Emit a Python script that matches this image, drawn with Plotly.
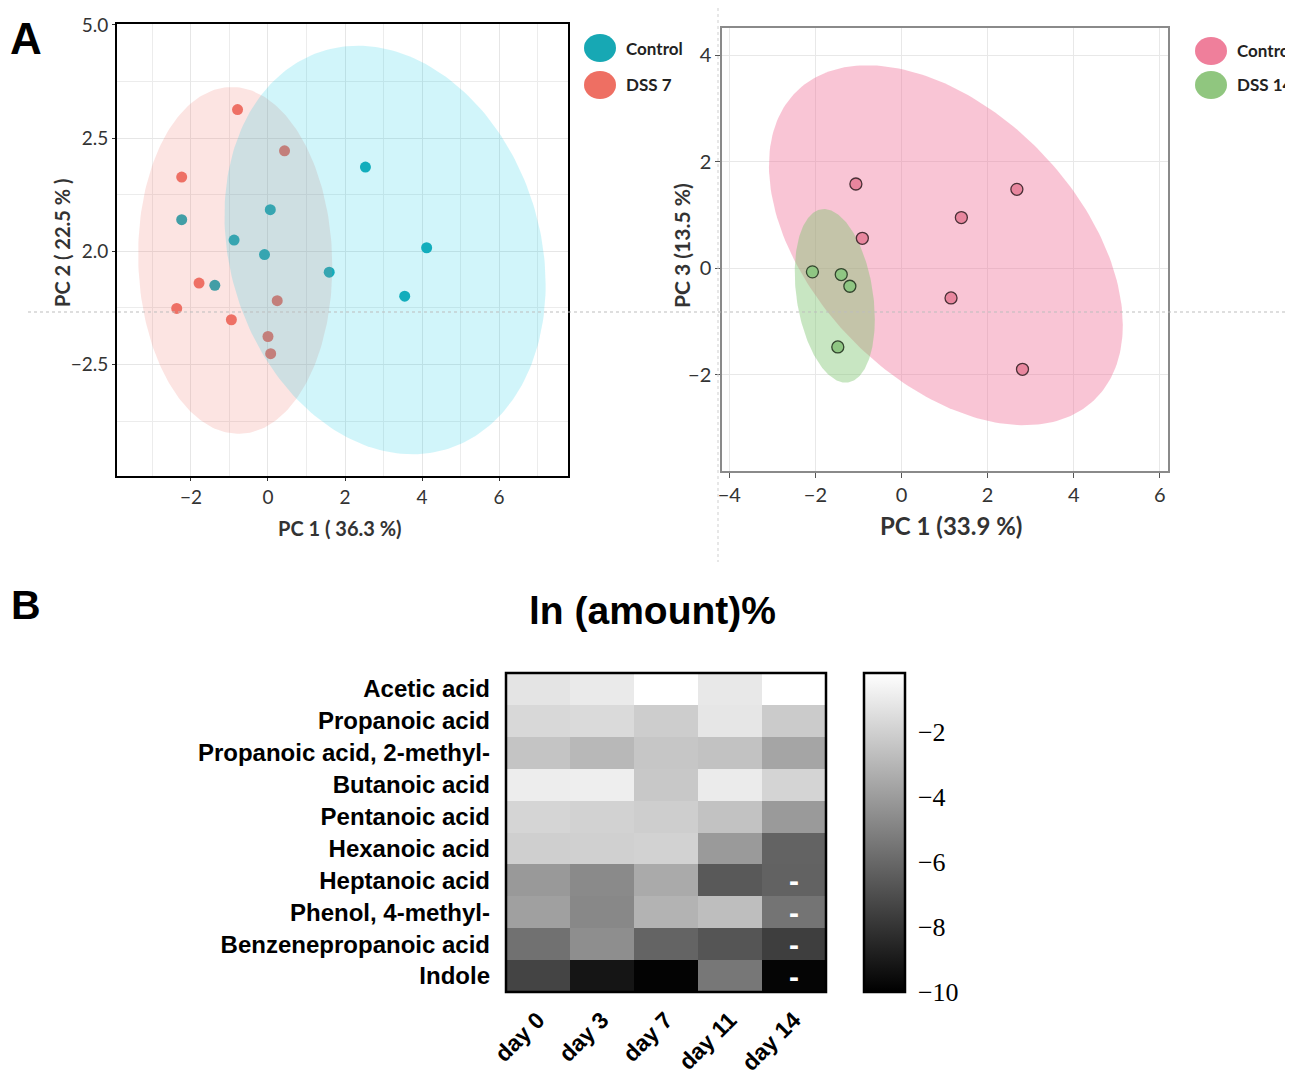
import numpy as np
import plotly.graph_objects as go

# ---------------- Panel A, left PCA (Control vs DSS 7) ----------------
ctrl7_x = [2.53, 0.06, -2.24, -0.88, -0.09, 4.12, 1.59, -1.38, 3.55]
ctrl7_y = [1.86, 0.92, 0.70, 0.25, -0.07, 0.08, -0.46, -0.75, -0.99]
dss7_x = [-0.79, 0.43, -2.24, -1.79, -2.37, 0.24, -0.95, 0.00, 0.07]
dss7_y = [3.13, 2.22, 1.64, -0.70, -1.26, -1.09, -1.51, -1.88, -2.26]
left_xticks = [-2, 0, 2, 4, 6]
left_yticks = [5.0, 2.5, 0.0, -2.5]
left_yticktext = ["5.0", "2.5", "2.0", "\u22122.5"]
# ellipse params: centre x, centre y, half width, half height, skew
ell_ctrl7 = [3.04, 0.03, 4.17, 4.51, -0.17]
ell_dss7 = [-0.85, -0.20, 2.52, 3.83, -0.035]

# ---------------- Panel A, right PCA (Control vs DSS 14) ----------------
ctrl14_x = [-1.06, 2.68, 1.39, -0.91, 1.15, 2.81]
ctrl14_y = [1.58, 1.48, 0.95, 0.56, -0.56, -1.90]
dss14_x = [-2.07, -1.40, -1.20, -1.48]
dss14_y = [-0.07, -0.12, -0.34, -1.48]
right_xticks = [-4, -2, 0, 2, 4, 6]
right_yticks = [-2, 0, 2, 4]
ell_ctrl14 = [1.03, 0.43, 4.11, 3.38, -0.443]
ell_dss14 = [-1.55, -0.52, 0.93, 1.63, -0.27]

# ---------------- Panel B heatmap ----------------
compounds = ["Acetic acid", "Propanoic acid", "Propanoic acid, 2-methyl-",
             "Butanoic acid", "Pentanoic acid", "Hexanoic acid",
             "Heptanoic acid", "Phenol, 4-methyl-", "Benzenepropanoic acid",
             "Indole"]
days = ["day 0", "day 3", "day 7", "day 11", "day 14"]
ln_amount = [
    [-1.24, -1.01, -0.20, -1.08, -0.20],
    [-1.70, -1.62, -2.12, -1.16, -2.20],
    [-2.47, -2.93, -2.39, -2.54, -3.66],
    [-0.89, -0.85, -2.31, -0.97, -1.85],
    [-1.81, -1.93, -2.08, -2.54, -4.08],
    [-2.04, -2.01, -1.93, -4.08, -6.20],
    [-4.12, -4.70, -3.47, -6.58, -6.23],
    [-3.85, -4.77, -3.12, -2.70, -5.54],
    [-5.66, -4.54, -6.16, -6.73, -7.62],
    [-7.39, -9.19, -9.88, -5.43, -9.81],
]
dash_rows = ["Heptanoic acid", "Phenol, 4-methyl-", "Benzenepropanoic acid", "Indole"]
cbar_ticks = [-2, -4, -6, -8, -10]
cbar_range = [-10, -0.2]

# the page body has an 8 px margin; the figure is sized to fit the window
OFF = 8
W, H = 1293 - OFF, 1075 - OFF


def ellipse(p, n=240):
    cx, cy, wx, hy, s = p
    phi = np.arcsin(s)
    t = np.linspace(0, 2 * np.pi, n)
    return cx + wx * np.cos(t), cy + hy * np.sin(t + phi)


def px(x):
    return (x - OFF) / W


def py(y):
    return 1 - (y - OFF) / H


fig = go.Figure()

# left panel: points first, ellipses drawn over them
fig.add_trace(go.Scatter(x=ctrl7_x, y=ctrl7_y, mode="markers", xaxis="x", yaxis="y",
                         marker=dict(size=11, color="#17A8B4", line=dict(width=0)),
                         name="Control", showlegend=False))
fig.add_trace(go.Scatter(x=dss7_x, y=dss7_y, mode="markers", xaxis="x", yaxis="y",
                         marker=dict(size=11, color="#EE6F63", line=dict(width=0)),
                         name="DSS 7", showlegend=False))
ex, ey = ellipse(ell_dss7)
fig.add_trace(go.Scatter(x=ex, y=ey, mode="lines", fill="toself", xaxis="x", yaxis="y",
                         line=dict(width=0), fillcolor="rgba(240,120,110,0.20)",
                         hoverinfo="skip", showlegend=False))
ex, ey = ellipse(ell_ctrl7)
fig.add_trace(go.Scatter(x=ex, y=ey, mode="lines", fill="toself", xaxis="x", yaxis="y",
                         line=dict(width=0), fillcolor="rgba(0,200,225,0.18)",
                         hoverinfo="skip", showlegend=False))

# right panel: ellipses then points
ex, ey = ellipse(ell_ctrl14)
fig.add_trace(go.Scatter(x=ex, y=ey, mode="lines", fill="toself", xaxis="x2", yaxis="y2",
                         line=dict(width=0), fillcolor="rgba(240,110,150,0.40)",
                         hoverinfo="skip", showlegend=False))
ex, ey = ellipse(ell_dss14)
fig.add_trace(go.Scatter(x=ex, y=ey, mode="lines", fill="toself", xaxis="x2", yaxis="y2",
                         line=dict(width=0), fillcolor="rgba(125,195,110,0.42)",
                         hoverinfo="skip", showlegend=False))
fig.add_trace(go.Scatter(x=ctrl14_x, y=ctrl14_y, mode="markers", xaxis="x2", yaxis="y2",
                         marker=dict(size=12, color="#E8869E", line=dict(width=1.3, color="#4a3036")),
                         name="Control", showlegend=False))
fig.add_trace(go.Scatter(x=dss14_x, y=dss14_y, mode="markers", xaxis="x2", yaxis="y2",
                         marker=dict(size=12, color="#8FC683", line=dict(width=1.3, color="#33452e")),
                         name="DSS 14", showlegend=False))

# heatmap
cb_bottom, cb_len = py(992), 319 / H
fig.add_trace(go.Heatmap(z=ln_amount, x=days, y=compounds, xaxis="x3", yaxis="y3",
                         colorscale=[[0, "#000000"], [1, "#ffffff"]],
                         zmin=cbar_range[0], zmax=cbar_range[1],
                         colorbar=dict(x=px(864), xanchor="left", xpad=0,
                                       y=cb_bottom, yanchor="bottom", ypad=0,
                                       len=cb_len, lenmode="fraction", thickness=41,
                                       outlinewidth=2.5, outlinecolor="black",
                                       tickvals=cbar_ticks,
                                       ticktext=["\u2212" + str(abs(v)) for v in cbar_ticks],
                                       ticks="outside", ticklen=7, tickwidth=1,
                                       tickcolor="rgba(0,0,0,0)",
                                       tickfont=dict(family="Liberation Serif", size=26, color="black"))))

# inside ticks on both edges of the colour bar
for v in cbar_ticks[:-1]:
    yy = cb_bottom + (v - cbar_range[0]) / (cbar_range[1] - cbar_range[0]) * cb_len
    for x0, x1 in [(865, 873), (897, 905)]:
        fig.add_shape(type="line", xref="paper", yref="paper", x0=px(x0), x1=px(x1),
                      y0=yy, y1=yy, line=dict(color="black", width=2.5))

for r in dash_rows:
    fig.add_annotation(x="day 14", y=r, xref="x3", yref="y3", text="<b>-</b>",
                       xanchor="center", yanchor="middle",
                       showarrow=False, font=dict(family="Liberation Sans", size=30, color="white"))

# heatmap frame
fig.add_shape(type="rect", xref="x3 domain", yref="y3 domain", x0=0, x1=1, y0=0, y1=1,
              line=dict(color="black", width=2.5), layer="above")

sans = "Lato"
tickfont_l = dict(family=sans, size=19, color="#333333")
tickfont_r = dict(family=sans, size=20, color="#333333")

fig.update_layout(
    template="none",
    width=W, height=H, margin=dict(l=0, r=0, t=0, b=0, pad=0, autoexpand=False),
    paper_bgcolor="white", plot_bgcolor="white", showlegend=False,
    xaxis=dict(domain=[px(117), px(568)], range=[-3.92, 7.79], anchor="y", automargin=False,
               tickvals=left_xticks, showgrid=True, gridcolor="#e6e6e6", gridwidth=1,
               minor=dict(dtick=1, tick0=0, showgrid=True, gridcolor="#ececec"),
               zeroline=False, showline=True, mirror=True, linecolor="black", linewidth=1.8,
               ticks="outside", ticklen=3, tickcolor="#333", tickfont=tickfont_l),
    yaxis=dict(domain=[py(476), py(24)], range=[-4.96, 5.02], anchor="x", automargin=False,
               tickvals=left_yticks, ticktext=left_yticktext, showgrid=True,
               gridcolor="#e6e6e6", gridwidth=1,
               minor=dict(dtick=1.25, tick0=0, showgrid=True, gridcolor="#ececec"),
               zeroline=False, showline=True, mirror=True, linecolor="black", linewidth=1.8,
               ticks="outside", ticklen=3, tickcolor="#333", tickfont=tickfont_l),
    xaxis2=dict(domain=[px(722), px(1168)], range=[-4.17, 6.19], anchor="y2", automargin=False,
                tickvals=right_xticks, showgrid=True, gridcolor="#e8e8e8",
                zeroline=False, showline=True, mirror=True, linecolor="#8a8a8a", linewidth=1.5,
                ticks="outside", ticklen=5, tickcolor="#555", tickfont=tickfont_r),
    yaxis2=dict(domain=[py(471), py(28)], range=[-3.81, 4.51], anchor="x2", automargin=False,
                tickvals=right_yticks, showgrid=True, gridcolor="#e8e8e8",
                zeroline=False, showline=True, mirror=True, linecolor="#8a8a8a", linewidth=1.5,
                ticks="outside", ticklen=5, tickcolor="#555", tickfont=tickfont_r),
    xaxis3=dict(domain=[px(506), px(826)], anchor="y3", showgrid=False, zeroline=False,
                automargin=False, showline=False, range=[-0.5, len(days) - 0.5],
                tickangle=-45, ticks="", ticklabelstandoff=9,
                tickfont=dict(family="Liberation Sans", size=23, color="black", weight="bold")),
    yaxis3=dict(domain=[py(992), py(673)], anchor="x3", automargin=False,
                range=[len(compounds) - 0.5, -0.5],
                showgrid=False, zeroline=False, showline=False,
                ticks="", ticklabelstandoff=15,
                tickfont=dict(family="Liberation Sans", size=24, color="black", weight="bold")),
)

# guide lines (dotted) of the figure layout
fig.add_shape(type="line", xref="paper", yref="paper", x0=px(28), x1=1, y0=py(312), y1=py(312),
              line=dict(color="#bdbdbd", width=1, dash="dot"), layer="above")
fig.add_shape(type="line", xref="paper", yref="paper", x0=px(718), x1=px(718), y0=1, y1=py(562),
              line=dict(color="#cfcfcf", width=1, dash="dot"), layer="above")


def label(x, y, text, size, family=sans, color="#333", angle=0, xanchor="center"):
    fig.add_annotation(x=px(x), y=py(y), xref="paper", yref="paper", text=text,
                       xanchor=xanchor, yanchor="middle", textangle=angle, showarrow=False,
                       font=dict(family=family, size=size, color=color))


# axis titles
label(340, 528, "<b>PC 1 ( 36.3 %)</b>", 20)
label(62, 243, "<b>PC 2 ( 22.5 % )</b>", 20, angle=-90)
label(951, 525, "<b>PC 1 (33.9 %)</b>", 24)
label(681, 246, "<b>PC 3 (13.5 %)</b>", 21, angle=-90)

# legends (drawn)
legends = [
    (600, 48, "#17A8B4", "Control"), (600, 85, "#EE6F63", "DSS 7"),
    (1211, 51, "#EF7F9B", "Control"), (1211, 85, "#90C67F", "DSS 14"),
]
for lx, ly, col, lab in legends:
    fig.add_shape(type="circle", xref="paper", yref="paper",
                  x0=px(lx - 16), x1=px(lx + 16), y0=py(ly + 14), y1=py(ly - 14),
                  fillcolor=col, line=dict(width=0))
    label(lx + 24, ly, f"<b>{lab}</b>", 17, color="#222", xanchor="left")

# panel letters and heatmap title
label(26, 38, "<b>A</b>", 44, family="Liberation Sans", color="black")
label(26, 605, "<b>B</b>", 41, family="Liberation Sans", color="black")
label(652, 610, "<b>ln (amount)%</b>", 39, family="Liberation Sans", color="black")

fig.write_html("out.html")
